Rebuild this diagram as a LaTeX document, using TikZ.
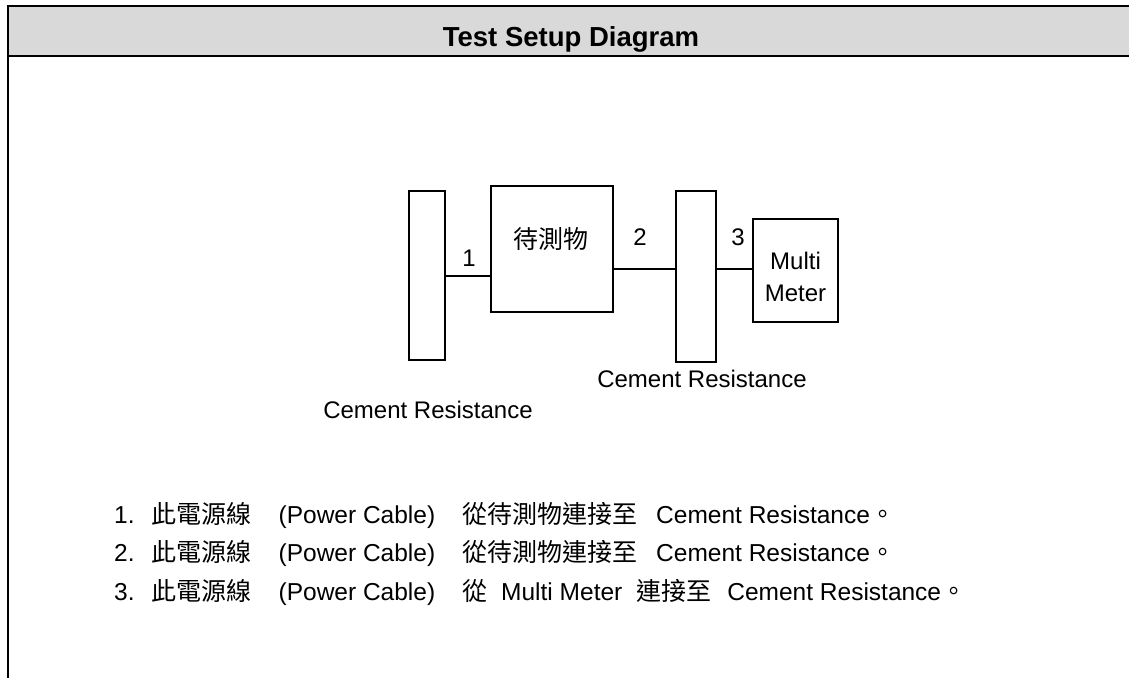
\documentclass[tikz,border=0pt]{standalone}
\usepackage{fontspec}
\setmainfont{Liberation Sans}
\newfontfamily\cjkfont{Noto Sans CJK TC}
\newcommand\cj[1]{{\cjkfont\fontsize{25}{30}\selectfont #1}}
\definecolor{hdrgray}{HTML}{D9D9D9}
\begin{document}
\begin{tikzpicture}[x=1pt,y=-1pt,
  frame/.style={line width=2pt},
  box/.style={draw,line width=1.5pt,inner sep=0pt,fill=white},
  wire/.style={line width=1.5pt},
  lbl/.style={font=\fontsize{24}{30}\selectfont,inner sep=0pt,anchor=base},
  listline/.style={font=\fontsize{24.5}{30}\selectfont,inner sep=0pt,anchor=base west},
  titlestyle/.style={font=\fontsize{27.5}{32}\selectfont\bfseries,inner sep=0pt,anchor=base}]
\useasboundingbox (0,0) rectangle (1129,678);
% header and frame
\fill[hdrgray] (8,6) rectangle (1129,55.5);
\draw[frame] (8,6) -- (1129,6);
\draw[frame] (8,55.5) -- (1129,55.5);
\draw[frame] (8,5) -- (8,678);
\node[titlestyle] (title) at (571,46) {Test Setup Diagram};
% boxes
\node[box,minimum width=36pt,minimum height=169pt] (res1) at (427,275.5) {};
\node[box,minimum width=122pt,minimum height=126pt] (dut) at (552,249) {};
\node[box,minimum width=40pt,minimum height=171pt] (res2) at (696,276.5) {};
\node[box,minimum width=85pt,minimum height=103pt] (mm) at (795.5,270.5) {};
% connectors
\coordinate (w1) at (0,276);
\coordinate (w2) at (0,269);
\draw[wire] (res1.east |- w1) -- (dut.west |- w1);
\draw[wire] (dut.east |- w2) -- (res2.west |- w2);
\draw[wire] (res2.east |- w2) -- (mm.west |- w2);
% labels
\node[lbl] (l1) at (469,266) {1};
\node[lbl] (l2) at (640,245) {2};
\node[lbl] (l3) at (738,245) {3};
\node[lbl] (dutl) at (551,248) {\cj{待測物}};
\node[lbl] (mm1) at (795.5,269.5) {Multi};
\node[lbl] (mm2) at (795.5,301.5) {Meter};
\node[lbl] (cr2) at (702,387) {Cement Resistance};
\node[lbl] (cr1) at (428,418) {Cement Resistance};
% list
\node[listline] (n1) at (114,523) {1.\hspace{17pt}\cj{此電源線}\hspace{27pt}(Power Cable)\hspace{27pt}\cj{從待測物連接至}\hspace{19pt}Cement Resistance\cj{。}};
\node[listline] (n2) at (114,561.5) {2.\hspace{17pt}\cj{此電源線}\hspace{27pt}(Power Cable)\hspace{27pt}\cj{從待測物連接至}\hspace{19pt}Cement Resistance\cj{。}};
\node[listline] (n3) at (114,600) {3.\hspace{17pt}\cj{此電源線}\hspace{27pt}(Power Cable)\hspace{27pt}\cj{從}\hspace{14pt}Multi Meter\hspace{14pt}\cj{連接至}\hspace{16pt}Cement Resistance\cj{。}};
\end{tikzpicture}
\end{document}
